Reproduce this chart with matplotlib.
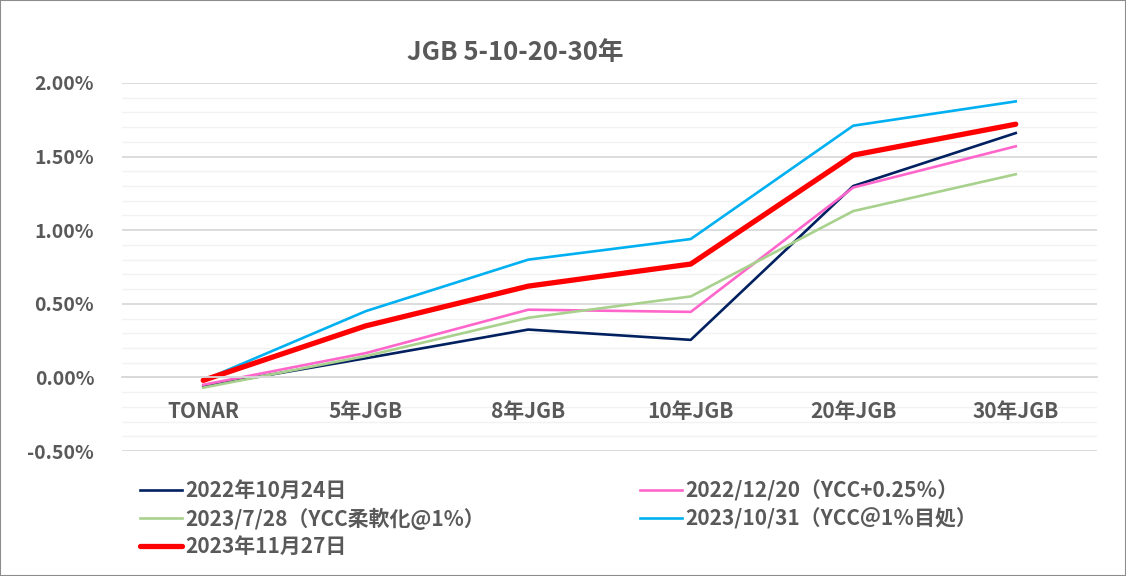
import matplotlib.pyplot as plt
from matplotlib.ticker import FuncFormatter, MultipleLocator

plt.rcParams['font.family'] = ['Noto Sans CJK JP', 'DejaVu Sans']

# categories and yields (%)
tenors = ['TONAR', '5年JGB', '8年JGB', '10年JGB', '20年JGB', '30年JGB']

y_20221024 = [-0.06, 0.13, 0.325, 0.255, 1.30, 1.66]
y_20221220 = [-0.05, 0.165, 0.46, 0.445, 1.29, 1.57]
y_20230728 = [-0.07, 0.145, 0.405, 0.55, 1.13, 1.38]
y_20231031 = [-0.02, 0.45, 0.80, 0.94, 1.71, 1.875]
y_20231127 = [-0.02, 0.35, 0.62, 0.77, 1.51, 1.72]

series_names = ['2022年10月24日', '2022/12/20（YCC+0.25％）', '2023/7/28（YCC柔軟化@1%）',
                '2023/10/31（YCC＠1％目処）', '2023年11月27日']

grey = '#595959'

fig = plt.figure(figsize=(11.26, 5.76), dpi=100)
ax = fig.add_axes([122 / 1126, 1 - 451 / 576, 975 / 1126, 368 / 576])

x = range(len(tenors))
l1, = ax.plot(x, y_20221024, color='#002060', lw=1.9, label=series_names[0])
l2, = ax.plot(x, y_20221220, color='#FF66CC', lw=1.9, label=series_names[1])
l3, = ax.plot(x, y_20230728, color='#A9D18E', lw=1.9, label=series_names[2])
l4, = ax.plot(x, y_20231031, color='#00B0F0', lw=1.9, label=series_names[3])
l5, = ax.plot(x, y_20231127, color='#FF0000', lw=3.8, label=series_names[4],
              solid_capstyle='round')

ax.set_xlim(-0.5, len(tenors) - 0.5)
ax.set_ylim(-0.5, 2.0)
ax.yaxis.set_major_locator(MultipleLocator(0.5))
ax.yaxis.set_minor_locator(MultipleLocator(0.1))
ax.yaxis.set_major_formatter(FuncFormatter(lambda v, p: f'{v:.2f}%'))
ax.grid(which='major', axis='y', color='#D9D9D9', lw=1.3)
ax.grid(which='minor', axis='y', color='#F2F2F2', lw=1.0)
ax.set_axisbelow(True)
# category labels sit on top of the gridlines
ax.xaxis.set_zorder(1.0)

for s in ['top', 'right', 'left']:
    ax.spines[s].set_visible(False)
ax.spines['bottom'].set_position(('data', 0))
ax.spines['bottom'].set_color('#D9D9D9')
ax.spines['bottom'].set_linewidth(1.3)

ax.set_xticks(list(x))
ax.set_xticklabels(tenors)
ax.tick_params(axis='x', length=0, pad=17, labelsize=15, labelcolor=grey)
ax.tick_params(axis='y', which='both', length=0, pad=20, labelsize=14, labelcolor=grey)
for t in ax.get_xticklabels() + ax.get_yticklabels():
    t.set_fontweight('bold')

fig.text(515 / 1126, 1 - 52 / 576, 'JGB 5-10-20-30年', ha='center', va='center',
         fontsize=18.5, fontweight='bold', color=grey)

leg_kw = dict(frameon=False, handlelength=2.0, handletextpad=0.15, labelspacing=0.3,
              borderaxespad=0, prop={'size': 15, 'weight': 'bold'}, labelcolor=grey)
leg1 = fig.legend(handles=[l1, l3, l5], loc='upper left',
                  bbox_to_anchor=(132 / 1126, 1 - 472 / 576), **leg_kw)
leg2 = fig.legend(handles=[l2, l4], loc='upper left',
                  bbox_to_anchor=(632 / 1126, 1 - 472 / 576), **leg_kw)

# outer border
fig.patches.append(plt.Rectangle((0, 0), 1, 1, transform=fig.transFigure, fill=False,
                                 edgecolor='#8C8C8C', lw=1.5))

fig.savefig('out.png', dpi=100)
